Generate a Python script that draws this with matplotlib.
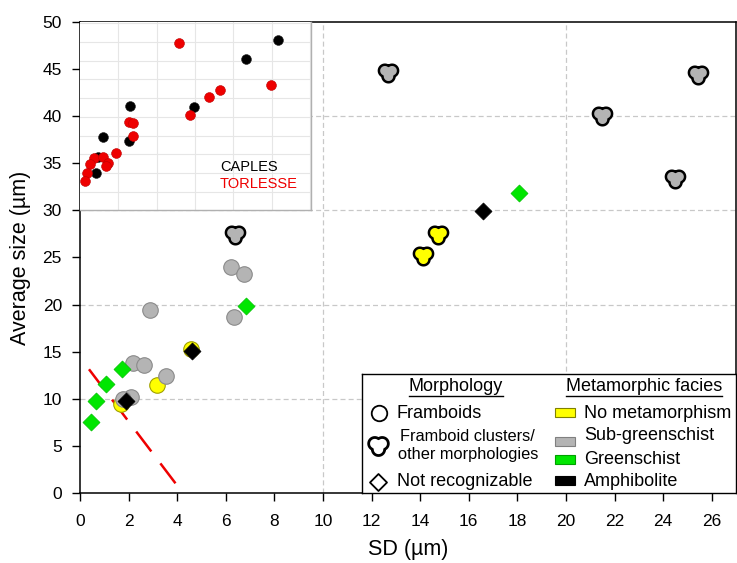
import numpy as np
import matplotlib
matplotlib.use("Agg")
import matplotlib.pyplot as plt
from matplotlib.path import Path
from matplotlib.patches import Rectangle
from matplotlib.lines import Line2D

plt.rcParams['font.family'] = ['Liberation Sans', 'DejaVu Sans']

# ---------------- data (main plot) ----------------
# Framboids (circles)
fr_sub_x = [6.23, 6.74, 6.33, 2.88, 2.18, 2.63, 3.55, 2.11, 1.77]
fr_sub_y = [23.98, 23.28, 18.69, 19.4, 13.8, 13.65, 12.4, 10.16, 9.95]
fr_nom_x = [4.56, 3.16, 1.67]
fr_nom_y = [15.3, 11.46, 9.45]
# Framboid clusters / other morphologies
cl_sub_x = [12.67, 21.5, 25.44, 24.47, 6.4]
cl_sub_y = [44.6, 40.0, 44.4, 33.3, 27.4]
cl_nom_x = [14.73, 14.11]
cl_nom_y = [27.4, 25.2]
# Not recognizable (diamonds)
nr_green_x = [18.08, 6.82, 1.73, 1.08, 0.64, 0.47]
nr_green_y = [31.85, 19.9, 13.2, 11.6, 9.77, 7.58]
nr_amph_x = [16.6, 4.59, 1.9]
nr_amph_y = [29.98, 15.06, 9.8]
# red dashed line (from lower end to upper end)
line_x = [3.93, 0.37]
line_y = [1.06, 13.15]

# ---------------- data (inset) ----------------
caples_x = [5.16, 4.33, 2.97, 1.31, 0.61, 1.29, 0.48, 0.42]
caples_y = [9.13, 8.08, 5.55, 5.57, 3.91, 3.73, 2.84, 2.01]
torlesse_x = [2.58, 4.99, 3.66, 3.36, 2.88, 1.29, 1.38, 1.39, 0.94, 0.37,
              0.59, 0.74, 0.68, 0.26, 0.17, 0.13]
torlesse_y = [8.95, 6.71, 6.42, 6.05, 5.08, 4.75, 4.65, 4.0, 3.09, 2.79,
              2.84, 2.55, 2.37, 2.48, 1.98, 1.57]

x_ticks = list(range(0, 27, 2))
y_ticks = list(range(0, 51, 5))

YEL, YEL_E = '#ffff00', '#a0a000'
GRY, GRY_E = '#b4b4b4', '#8a8a8a'
GRN = '#00e600'
BLK = '#000000'


def cluster_path():
    centers = np.array([[-0.36, 0.2], [0.36, 0.2], [0.0, -0.36]])
    r = 0.6
    th = np.linspace(0, 2 * np.pi, 361)
    pts = []
    for t in th:
        d = np.array([np.cos(t), np.sin(t)])
        best = 0.0
        for c in centers:
            b = d @ c
            disc = b * b - c @ c + r * r
            if disc >= 0:
                best = max(best, b + np.sqrt(disc))
        pts.append(best * d)
    pts = np.array(pts)
    pts[:, 1] -= (pts[:, 1].max() + pts[:, 1].min()) / 2
    return Path(pts, closed=True)


CL = cluster_path()

W, H = 737, 563
fig = plt.figure(figsize=(W / 100, H / 100), dpi=100)


def frect(l, t, r, b):
    return [l / W, 1 - b / H, (r - l) / W, (b - t) / H]


ax = fig.add_axes(frect(80, 21.7, 736, 493.3))
ax.set_xlim(0, 27)
ax.set_ylim(0, 50)
ax.set_xticks(x_ticks)
ax.set_yticks(y_ticks)
ax.tick_params(direction='out', length=6, width=1, labelsize=12.5)
ax.tick_params(axis='x', pad=9)
ax.tick_params(axis='y', pad=7)
for s in ax.spines.values():
    s.set_linewidth(1.1)
for gx in [10, 20]:
    ax.axvline(gx, color='#c8c8c8', lw=0.9, ls=(0, (4, 2.5)), zorder=0)
for gy in [10, 20, 30, 40]:
    ax.axhline(gy, color='#c8c8c8', lw=0.9, ls=(0, (4, 2.5)), zorder=0)
ax.set_xlabel('SD (µm)', fontsize=15.5, labelpad=7)
ax.set_ylabel('Average size (µm)', fontsize=15.5, labelpad=8)

ax.plot(line_x, line_y, color='#ee0000', lw=1.8, dashes=(10, 6), zorder=1)

ax.scatter(fr_nom_x, fr_nom_y, s=125, c=YEL, edgecolors=YEL_E, linewidths=0.8, zorder=2)
ax.scatter(fr_sub_x, fr_sub_y, s=125, c=GRY, edgecolors=GRY_E, linewidths=0.8, zorder=3)
ax.scatter(cl_sub_x, cl_sub_y, s=190, marker=CL, c=GRY, edgecolors='black', linewidths=1.8, zorder=3)
ax.scatter(cl_nom_x, cl_nom_y, s=190, marker=CL, c=YEL, edgecolors='black', linewidths=1.8, zorder=3)
ax.scatter(nr_green_x, nr_green_y, s=75, marker='D', c=GRN, edgecolors='#00c000', linewidths=0.5, zorder=4)
ax.scatter(nr_amph_x, nr_amph_y, s=75, marker='D', c=BLK, edgecolors=BLK, linewidths=0.5, zorder=4)

# ---------------- inset ----------------
ia = fig.add_axes(frect(80, 21.7, 311, 210.4))
ia.set_xlim(0, 6.03)
ia.set_ylim(0, 10.09)
ia.set_xticks(range(1, 7))
ia.set_yticks(range(1, 11))
ia.tick_params(length=0, labelbottom=False, labelleft=False)
ia.grid(True, color='#e6e6e6', lw=0.8)
ia.set_axisbelow(True)
for k, s in ia.spines.items():
    s.set_color('#b0b0b0')
    s.set_linewidth(1.0)
ia.spines['left'].set_visible(False)
ia.spines['top'].set_visible(False)
ia.scatter(caples_x, caples_y, s=50, c='black', edgecolors='#222222', linewidths=0.4, zorder=3)
ia.scatter(torlesse_x, torlesse_y, s=50, c='#ee0000', edgecolors='#bb0000', linewidths=0.4, zorder=4)
ia.text(0.606, 0.228, 'CAPLES', transform=ia.transAxes, fontsize=10.5, color='black', va='center', ha='left')
ia.text(0.606, 0.140, 'TORLESSE', transform=ia.transAxes, fontsize=10.5, color='#ee0000', va='center', ha='left')

# ---------------- legend panel ----------------
la = fig.add_axes(frect(361.7, 374, 736, 493.3))
la.set_xlim(361.7, 736)
la.set_ylim(493.3, 374)
la.set_xticks([])
la.set_yticks([])
la.set_facecolor('white')
for s in la.spines.values():
    s.set_linewidth(1.0)

h1 = la.text(455.7, 387, 'Morphology', fontsize=13, ha='center', va='center')
h2 = la.text(644, 387, 'Metamorphic facies', fontsize=13, ha='center', va='center')

la.scatter([379], [413.3], s=125, facecolors='white', edgecolors='black', linewidths=1.3, clip_on=False)
la.text(396.7, 413.3, 'Framboids', fontsize=13, ha='left', va='center')
la.scatter([378.3], [446], s=200, marker=CL, facecolors='white', edgecolors='black', linewidths=2.0, clip_on=False)
la.text(467, 437, 'Framboid clusters/', fontsize=11.8, ha='center', va='center')
la.text(468, 455, 'other morphologies', fontsize=11.8, ha='center', va='center')
la.scatter([378.3], [481.7], s=75, marker='D', facecolors='white', edgecolors='black', linewidths=1.3, clip_on=False)
la.text(397, 482, 'Not recognizable', fontsize=13, ha='left', va='center')

for (yc, fc, ec, lab, ty) in [(412.8, YEL, '#808000', 'No metamorphism', 413.3),
                              (442, GRY, '#808080', 'Sub-greenschist', 436),
                              (459.5, GRN, '#00a000', 'Greenschist', 459.5),
                              (480.5, BLK, BLK, 'Amphibolite', 482)]:
    la.add_patch(Rectangle((555, yc - 4.5), 20, 9, facecolor=fc, edgecolor=ec, lw=0.8))
    la.text(584, ty, lab, fontsize=13, ha='left', va='center')

fig.canvas.draw()
r = fig.canvas.get_renderer()
for h in (h1, h2):
    bb = h.get_window_extent(r)
    yline = bb.y0 - 1
    fig.add_artist(Line2D([bb.x0 / W, bb.x1 / W], [yline / H, yline / H],
                          color='black', lw=1.0, transform=fig.transFigure))

fig.savefig('out.png', dpi=100)
